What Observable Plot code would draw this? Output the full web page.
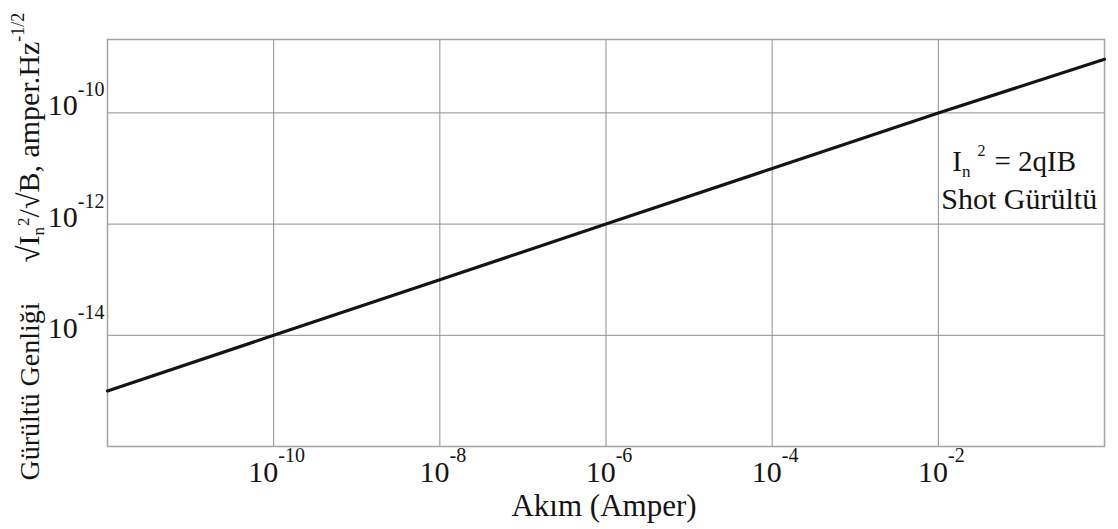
<!DOCTYPE html>
<html>
<head>
<meta charset="utf-8">
<script src="https://cdn.jsdelivr.net/npm/d3@7"></script>
<script src="https://cdn.jsdelivr.net/npm/@observablehq/plot@0.6"></script>
<style>
  html, body { margin: 0; padding: 0; background: white; }
  #chart svg { display: block; }
</style>
</head>
<body>
<div id="chart"></div>
<script>
// Data (log-log, shot noise)
const currentA = [1e-12, 1e-10, 1e-8, 1e-6, 1e-4, 1e-2, 1];
const noiseA   = [1e-15, 1e-14, 1e-13, 1e-12, 1e-11, 1e-10, 9.2e-10];

// Ticks and labels
const xTicks = [1e-10, 1e-8, 1e-6, 1e-4, 1e-2];
const xTickExp = ["-10", "-8", "-6", "-4", "-2"];
const yTicks = [1e-14, 1e-12, 1e-10];
const yTickExp = ["-14", "-12", "-10"];

const xTitle = "Akım (Amper)";
const yTitleA = "Gürültü Genliği";
const noteLine2 = "Shot Gürültü";

const lineData = currentA.map((c, i) => ({c, n: noiseA[i]}));
const xTickData = xTicks.map((v, i) => ({v, e: xTickExp[i]}));
const yTickData = yTicks.map((v, i) => ({v, e: yTickExp[i]}));
const noteAnchor = [{x: 1e-2, y: 1e-11}];

const serif = "'Liberation Serif', 'Times New Roman', Times, serif";
const ink = "#141414";

const chart = Plot.plot({
  width: 1118,
  height: 529,
  marginLeft: 107,
  marginTop: 39,
  marginRight: 14,
  marginBottom: 83,
  style: {fontFamily: serif, background: "white", color: ink},
  x: {type: "log", domain: [1e-12, 1], axis: null},
  y: {type: "log", domain: [1e-16, Math.pow(10, -8.68)], axis: null},
  marks: [
    Plot.gridX(xTicks, {stroke: "#8f8f8f", strokeOpacity: 1, strokeWidth: 1}),
    Plot.gridY(yTicks, {stroke: "#8f8f8f", strokeOpacity: 1, strokeWidth: 1}),
    Plot.frame({stroke: "#a3a3a3", strokeWidth: 1.5}),
    Plot.line(lineData, {x: "c", y: "n", stroke: ink, strokeWidth: 3.2}),
    // text groups, in this order: 0 xtick, 1 ytick, 2 xtitle, 3 ytitle, 4 formula, 5 note
    Plot.text(xTickData, {
      x: "v", text: "e", frameAnchor: "bottom", lineAnchor: "bottom",
      textAnchor: "middle", dx: 3, dy: 35, fontSize: 30, fill: ink
    }),
    Plot.text(yTickData, {
      y: "v", text: "e", frameAnchor: "left", lineAnchor: "bottom",
      textAnchor: "end", dx: -3, dy: 2.5, fontSize: 30, fill: ink
    }),
    Plot.text([xTitle], {
      text: d => d, frameAnchor: "bottom", lineAnchor: "bottom",
      textAnchor: "middle", dx: -2, dy: 69, fontSize: 31, fill: ink
    }),
    Plot.text([yTitleA], {
      text: d => d, frameAnchor: "bottom-left", lineAnchor: "bottom", rotate: -90,
      textAnchor: "start", dx: -69, dy: 34, fontSize: 28, fill: ink
    }),
    Plot.text(noteAnchor, {
      x: "x", y: "y", text: () => "I", textAnchor: "start", lineAnchor: "bottom",
      dx: 14, dy: 3, fontSize: 29, fill: ink
    }),
    Plot.text(noteAnchor, {
      x: "x", y: "y", text: () => noteLine2, textAnchor: "start", lineAnchor: "bottom",
      dx: 3, dy: 41, fontSize: 30, fill: ink
    })
  ]
});
document.getElementById("chart").append(chart);

const root = d3.select(chart);
const groups = root.selectAll('g[aria-label="text"]').nodes();

function powerTen(g, rise) {
  d3.select(g).selectAll("text").each(function () {
    const t = d3.select(this); const e = t.text(); t.text(null);
    t.append("tspan").text("10");
    t.append("tspan").attr("font-size", 20).attr("dy", -rise).text(e);
  });
}
powerTen(groups[0], 20);
powerTen(groups[1], 19);

// Y title: Gürültü Genliği   √In²/√B, amper.Hz^-1/2
d3.select(groups[3]).selectAll("text").each(function () {
  const t = d3.select(this); const a = t.text(); t.text(null);
  t.append("tspan").text(a);
  t.append("tspan").attr("dx", 40).attr("font-size", 31).text("\u221A");
  t.append("tspan").attr("font-size", 30).text("I");
  t.append("tspan").attr("font-size", 17).attr("dy", 5).text("n");
  t.append("tspan").attr("font-size", 17).attr("dx", 1).attr("dy", -15).text("2");
  t.append("tspan").attr("font-size", 30).attr("dy", 10).text("/\u221AB, amper.Hz");
  t.append("tspan").attr("font-size", 18).attr("dy", -15).text("-1/2");
});

// Formula: In² = 2qIB
d3.select(groups[4]).selectAll("text").each(function () {
  const t = d3.select(this); const a = t.text(); t.text(null);
  t.append("tspan").text(a);
  t.append("tspan").attr("font-size", 17).attr("dy", 6).text("n");
  t.append("tspan").attr("font-size", 16).attr("dx", 7).attr("dy", -21).text("2");
  t.append("tspan").attr("dx", 9).attr("dy", 15).text("= 2qIB");
});
</script>
</body>
</html>
